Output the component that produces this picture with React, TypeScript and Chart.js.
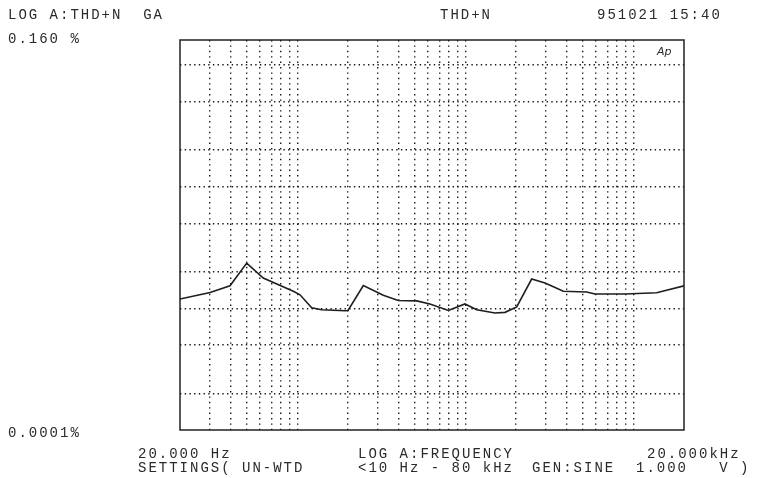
import React, { useEffect, useRef } from "react";
import { Chart, registerables } from "chart.js";

Chart.register(...registerables);

const freqHz = [20, 30.2, 39.7, 49.9, 62.6, 94.5, 103.6, 121.6, 139.4, 191.9, 200, 246.8, 324.4, 398, 513, 615, 791, 993, 1167, 1500, 1721, 2019, 2479, 2977, 3826, 5272, 5904, 8912, 13749, 20000];
const thdPct = [0.00119, 0.00135, 0.00153, 0.00235, 0.00177, 0.00138, 0.00129, 0.00101, 0.000974, 0.000955, 0.00096, 0.00154, 0.00128, 0.00116, 0.00115, 0.001085, 0.000961, 0.001085, 0.000974, 0.000915, 0.000926, 0.001025, 0.00174, 0.00161, 0.00138, 0.00136, 0.00131, 0.00131, 0.00134, 0.00153];

const xGridHz = [20, 30, 40, 50, 60, 70, 80, 90, 100, 200, 300, 400, 500, 600, 700, 800, 900, 1000, 2000, 3000, 4000, 5000, 6000, 7000, 8000, 9000, 10000, 20000];
const yGridPct = [0.0001, 0.0002, 0.0005, 0.001, 0.002, 0.005, 0.01, 0.02, 0.05, 0.1, 0.16];

const headerLeft = "LOG A:THD+N  GA";
const headerMid = "THD+N";
const headerRight = "951021 15:40";
const yTopLabel = "0.160 %";
const yBottomLabel = "0.0001%";
const xLeftLabel = "20.000 Hz";
const xMidLabel = "LOG A:FREQUENCY";
const xRightLabel = "20.000kHz";
const settingsLeft = "SETTINGS( UN-WTD";
const settingsMid = "<10 Hz - 80 kHz";
const settingsRight = "GEN:SINE  1.000   V )";

const INK = "#2a2a2a";
const GRID = "#1a1a1a";

const textPlugin = {
  id: "apTexts",
  afterDraw(chart: any) {
    const ctx = chart.ctx as CanvasRenderingContext2D;
    const a = chart.chartArea;
    ctx.save();
    ctx.strokeStyle = "#222";
    ctx.lineWidth = 1.5;
    ctx.strokeRect(a.left, a.top, a.right - a.left, a.bottom - a.top);
    ctx.fillStyle = INK;
    ctx.font = '14px "Liberation Mono", monospace';
    (ctx as any).letterSpacing = "2px";
    ctx.textBaseline = "alphabetic";
    ctx.textAlign = "left";
    ctx.fillText(headerLeft, 8, 19);
    ctx.fillText(headerMid, 440, 19);
    ctx.fillText(headerRight, 597, 19);
    ctx.fillText(yTopLabel, 8, 43);
    ctx.fillText(yBottomLabel, 8, 437);
    ctx.fillText(xLeftLabel, 138, 458);
    ctx.fillText(xMidLabel, 358, 458);
    ctx.fillText(xRightLabel, 647, 458);
    ctx.fillText(settingsLeft, 138, 472);
    ctx.fillText(settingsMid, 358, 472);
    ctx.fillText(settingsRight, 532, 472);
    (ctx as any).letterSpacing = "0px";
    ctx.font = 'italic 11px "DejaVu Sans", sans-serif';
    ctx.fillText("Ap", a.right - 27, a.top + 15);
    ctx.restore();
  },
};

export default function App() {
  const ref = useRef<HTMLCanvasElement>(null);
  useEffect(() => {
    if (!ref.current) return;
    const chart = new Chart(ref.current, {
      type: "line",
      data: {
        datasets: [
          {
            data: freqHz.map((f, i) => ({ x: f, y: thdPct[i] })),
            borderColor: "#1e1e1e",
            borderWidth: 1.6,
            pointRadius: 0,
            tension: 0,
            fill: false,
          },
        ],
      },
      options: {
        animation: false,
        responsive: false,
        maintainAspectRatio: false,
        layout: { padding: { left: 180, top: 40, right: 87, bottom: 48 } },
        plugins: { legend: { display: false }, tooltip: { enabled: false } },
        scales: {
          x: {
            type: "logarithmic",
            min: 20,
            max: 20000,
            afterBuildTicks: (s: any) => {
              s.ticks = xGridHz.map((v) => ({ value: v }));
            },
            ticks: { display: false },
            grid: {
              drawTicks: false,
              lineWidth: 1.4,
              color: (c: any) => (c.tick && (c.tick.value === 20 || c.tick.value === 20000) ? "rgba(0,0,0,0)" : GRID),
            },
            border: { display: false, dash: [1.4, 4] },
          },
          y: {
            type: "logarithmic",
            min: 0.0001,
            max: 0.16,
            afterBuildTicks: (s: any) => {
              s.ticks = yGridPct.map((v) => ({ value: v }));
            },
            ticks: { display: false },
            grid: {
              drawTicks: false,
              lineWidth: 1.4,
              color: (c: any) => (c.tick && (c.tick.value === 0.0001 || c.tick.value === 0.16) ? "rgba(0,0,0,0)" : GRID),
            },
            border: { display: false, dash: [1.4, 3.3] },
          },
        },
      },
      plugins: [textPlugin],
    });
    return () => chart.destroy();
  }, []);
  return (
    <div style={{ position: "absolute", left: 0, top: 0, width: 771, height: 478, background: "#fff" }}>
      <canvas ref={ref} width={771} height={478} style={{ display: "block", width: 771, height: 478 }} />
    </div>
  );
}
